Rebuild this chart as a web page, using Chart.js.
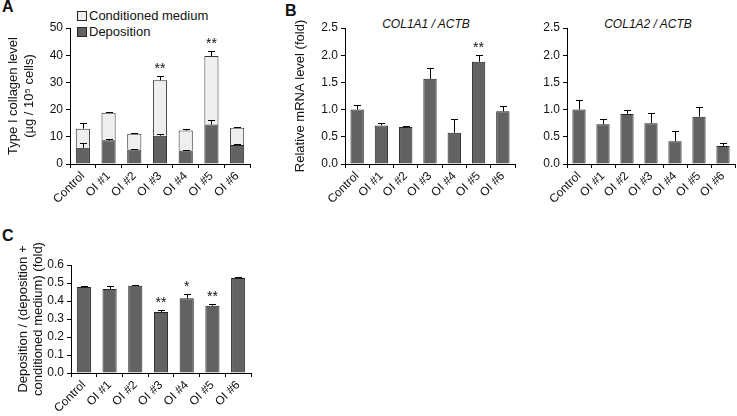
<!DOCTYPE html>
<html>
<head>
<meta charset="utf-8">
<script src="https://cdn.jsdelivr.net/npm/chart.js@4.4.1/dist/chart.umd.min.js"></script>
<style>
  body { margin: 0; width: 737px; height: 416px; background: #fff; position: relative; overflow: hidden;
         font-family: "Liberation Sans", Arial, sans-serif; color: #111; }
  canvas { position: absolute; }
  .txt { position: absolute; white-space: nowrap; }
  .panel { font-weight: bold; font-size: 16px; }
  .gene { font-style: italic; font-size: 12px; transform: translateX(-50%); }
  .leg { font-size: 13px; }
  .box { position: absolute; width: 8px; height: 8px; border: 1px solid #222; }
</style>
</head>
<body>
<div class="txt panel" style="left:2px;top:-2px">A</div>
<div class="txt panel" style="left:285px;top:2px">B</div>
<div class="txt panel" style="left:2px;top:227px">C</div>

<div class="box" style="left:77px;top:11px;background:#efefef"></div>
<div class="txt leg" style="left:89px;top:8px">Conditioned medium</div>
<div class="box" style="left:77px;top:27px;background:#626262"></div>
<div class="txt leg" style="left:89px;top:24px">Deposition</div>

<div class="txt gene" style="left:426px;top:17px">COL1A1 / ACTB</div>
<div class="txt gene" style="left:648px;top:17px">COL1A2 / ACTB</div>

<canvas id="chartA" width="256" height="215" style="left:0;top:0"></canvas>
<canvas id="chartB1" width="232" height="215" style="left:288px;top:0"></canvas>
<canvas id="chartB2" width="217" height="215" style="left:520px;top:0"></canvas>
<canvas id="chartC" width="256" height="201" style="left:0;top:215px"></canvas>

<script>
const groups = ["Control", "OI #1", "OI #2", "OI #3", "OI #4", "OI #5", "OI #6"];

// panel A: type I collagen (ug / 10^5 cells)
const deposition = [6.0, 8.7, 5.3, 10.4, 5.0, 14.5, 7.0];
const depositionErr = [1.8, 0.6, 0.3, 0.7, 0.3, 1.5, 0.3];
const conditioned = [7.0, 10.1, 5.8, 20.4, 7.3, 25.2, 6.3];
const conditionedErr = [2.2, 0.4, 0.4, 1.7, 0.4, 1.7, 0.4];
const starsA = ["", "", "", "**", "", "**", ""];
const ticksA = [0, 10, 20, 30, 40, 50];

// panel B: relative mRNA level
const col1a1 = [1.0, 0.71, 0.68, 1.565, 0.575, 1.88, 0.97];
const col1a1Err = [0.08, 0.05, 0.02, 0.2, 0.245, 0.13, 0.09];
const starsB1 = ["", "", "", "", "", "**", ""];
const col1a2 = [1.0, 0.73, 0.92, 0.75, 0.42, 0.87, 0.33];
const col1a2Err = [0.17, 0.10, 0.08, 0.18, 0.18, 0.17, 0.05];
const ticksB = [0, 0.5, 1.0, 1.5, 2.0, 2.5];

// panel C: deposition ratio
const ratio = [0.478, 0.467, 0.485, 0.339, 0.415, 0.374, 0.528];
const ratioErr = [0.005, 0.014, 0.005, 0.009, 0.024, 0.009, 0.003];
const starsC = ["", "", "", "**", "*", "**", ""];
const ticksC = [0, 0.1, 0.2, 0.3, 0.4, 0.5, 0.6];

const FONT = "'Liberation Sans', Arial, sans-serif";
const DARK = "#626262";
const LIGHT = "#efefef";

// upper whiskers + significance marks
const errorBars = {
  id: "errorBars",
  afterDatasetsDraw(chart) {
    const ctx = chart.ctx;
    const y = chart.scales.y;
    ctx.save();
    ctx.strokeStyle = "#000";
    ctx.lineWidth = 1;
    ctx.fillStyle = "#111";
    ctx.font = "14px " + FONT;
    ctx.textAlign = "center";
    ctx.textBaseline = "alphabetic";
    chart.data.datasets.forEach((ds, di) => {
      if (!ds.errors) return;
      const meta = chart.getDatasetMeta(di);
      meta.data.forEach((bar, i) => {
        const topVal = y.getValueForPixel(bar.y);
        const yErr = Math.round(y.getPixelForValue(topVal + ds.errors[i])) + 0.5;
        const x = Math.round(bar.x) + 0.5;
        ctx.beginPath();
        ctx.moveTo(x, bar.y);
        ctx.lineTo(x, yErr);
        ctx.moveTo(x - 3.5, yErr);
        ctx.lineTo(x + 3.5, yErr);
        ctx.stroke();
        if (ds.stars && ds.stars[i]) {
          ctx.fillText(ds.stars[i], bar.x, yErr - 4);
        }
      });
    });
    ctx.restore();
  }
};

function makeChart(id, datasets, o) {
  return new Chart(document.getElementById(id), {
    type: "bar",
    data: { labels: groups, datasets: datasets },
    plugins: [errorBars],
    options: {
      responsive: false,
      animation: false,
      layout: { padding: { top: o.top, right: o.right, left: 0, bottom: 0 } },
      plugins: { legend: { display: false }, tooltip: { enabled: false } },
      scales: {
        x: {
          stacked: !!o.stacked,
          afterFit: s => { s.height = o.xHeight; },
          border: { color: "#000", width: 1 },
          grid: { drawOnChartArea: false, offset: true, tickLength: 4, color: "#000" },
          ticks: { autoSkip: false, minRotation: 45, maxRotation: 45, padding: 1, color: "#111",
                   font: { family: FONT, size: 12 } }
        },
        y: {
          stacked: !!o.stacked,
          min: 0,
          max: o.ticks[o.ticks.length - 1],
          afterFit: s => { s.width = o.yWidth; },
          afterBuildTicks: s => { s.ticks = o.ticks.map(v => ({ value: v })); },
          border: { color: "#000", width: 1 },
          grid: { drawOnChartArea: false, tickLength: 4, color: "#000" },
          ticks: { padding: 3, color: "#111", font: { family: FONT, size: 12 },
                   callback: v => o.decimals ? Number(v).toFixed(o.decimals) : v },
          title: o.yTitle ? {
            display: true, text: o.yTitle, color: "#111",
            font: { family: FONT, size: 13, lineHeight: o.lh + "px" },
            padding: { top: o.tp, bottom: 0 }
          } : { display: false }
        }
      }
    }
  });
}

function bars(label, data, errors, stars, color, border) {
  return {
    label: label, data: data, errors: errors, stars: stars,
    backgroundColor: color, borderColor: border, borderWidth: 1,
    barPercentage: 0.55, categoryPercentage: 1
  };
}

makeChart("chartA", [
  bars("Deposition", deposition, depositionErr, null, DARK, "#222"),
  bars("Conditioned medium", conditioned, conditionedErr, starsA, LIGHT, "#333")
], { stacked: true, top: 28, right: 6, xHeight: 51, yWidth: 70, ticks: ticksA, decimals: 0,
     yTitle: ["Type I collagen level", "(µg / 10⁵ cells)"], lh: 16, tp: 5 });

makeChart("chartB1", [bars("COL1A1 / ACTB", col1a1, col1a1Err, starsB1, DARK, "#222")],
  { top: 28, right: 5, xHeight: 51, yWidth: 57, ticks: ticksB, decimals: 1,
    yTitle: "Relative mRNA level (fold)", lh: 16, tp: 4 });

makeChart("chartB2", [bars("COL1A2 / ACTB", col1a2, col1a2Err, null, DARK, "#222")],
  { top: 28, right: 2, xHeight: 51, yWidth: 47, ticks: ticksB, decimals: 1 });

makeChart("chartC", [bars("Ratio", ratio, ratioErr, starsC, DARK, "#222")],
  { top: 50, right: 5, xHeight: 43, yWidth: 71, ticks: ticksC, decimals: 1,
    yTitle: ["Deposition / (deposition +", "conditioned medium) (fold)"], lh: 15, tp: 15.5 });
</script>
</body>
</html>
